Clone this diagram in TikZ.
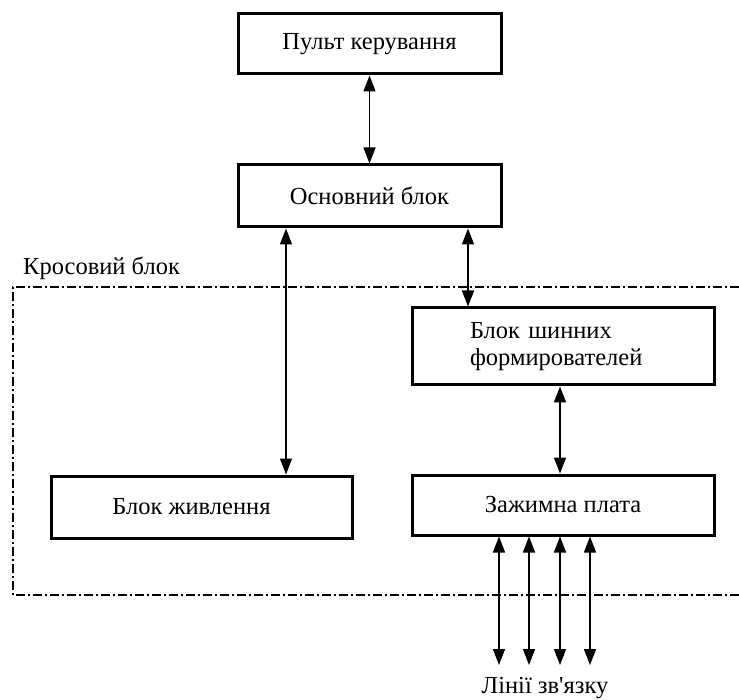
\documentclass[tikz,border=0pt]{standalone}
\usepackage{fontspec}
\newfontfamily\tnr{Liberation Serif}
\usetikzlibrary{arrows.meta}
\begin{document}
\begin{tikzpicture}[x=1pt,y=-1pt,
  box/.style={draw,line width=3pt,rectangle,inner sep=0pt,font=\tnr\fontsize{24.5}{27}\selectfont},
  link/.style={line width=1.5pt,{Triangle[length=16pt,width=12pt]}-{Triangle[length=16pt,width=12pt]}},
  frame/.style={line width=1.4pt,dash pattern=on 9pt off 3pt on 2pt off 3pt},
  lbl/.style={font=\tnr\fontsize{24.5}{27}\selectfont,inner sep=0pt}]
\path[use as bounding box] (0,0) rectangle (739,700);
\node[box,minimum width=263pt,minimum height=60pt] (pult) at (369.5,44) {Пульт керування};
\node[box,minimum width=263pt,minimum height=62pt] (osn) at (369.5,196) {Основний блок};
\node[box,minimum width=302pt,minimum height=77pt,align=left,text width=186pt,inner xsep=58pt] (shyn) at (563,346.5) {Блок шинних\\формирователей};
\node[box,minimum width=302pt,minimum height=60pt] (zazh) at (563,505) {Зажимна плата};
\node[box,minimum width=301pt,minimum height=62pt] (zhyv) at (201.5,507) {\hspace*{-20pt}Блок живлення};
\draw[frame] (739,287) -- (13,287) -- (13,595) -- (739,595);
\node[lbl,anchor=west] (kros) at (23,268) {Кросовий блок};
\draw[link] (pult.south) -- (osn.north);
\draw[link] (osn.south -| 286,0) -- (zhyv.north -| 286,0);
\draw[link] (osn.south -| 468,0) -- (shyn.north -| 468,0);
\draw[link] (shyn.south -| 560,0) -- (zazh.north -| 560,0);
\coordinate (l1) at (499,665);
\coordinate (l2) at (529,665);
\coordinate (l3) at (560,665);
\coordinate (l4) at (590,665);
\draw[link] (zazh.south -| l1) -- (l1);
\draw[link] (zazh.south -| l2) -- (l2);
\draw[link] (zazh.south -| l3) -- (l3);
\draw[link] (zazh.south -| l4) -- (l4);
\node[lbl] (lines) at (545,688) {Лінії зв'язку};
\end{tikzpicture}
\end{document}
